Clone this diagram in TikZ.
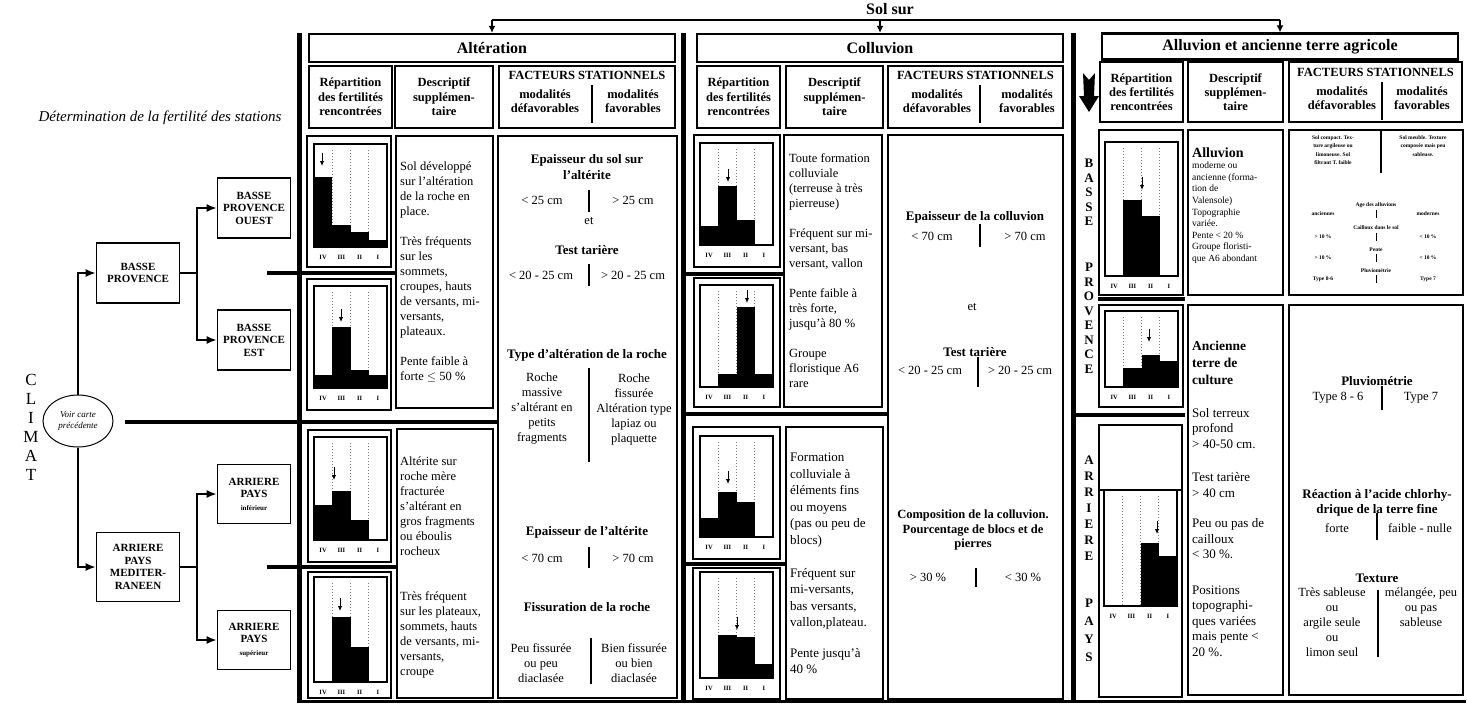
\documentclass[tikz,border=0pt]{standalone}
\usepackage{fontspec}
\setmainfont{Liberation Serif}
\usetikzlibrary{arrows.meta,shapes.geometric}

\tikzset{
  cellframe/.style={line width=2.4pt},
  titlebox/.style={draw, line width=2.4pt, inner sep=0pt, font=\bfseries\fontsize{16}{18}\selectfont},
  headbox/.style={draw, line width=2.4pt, inner sep=0pt, align=center, font=\bfseries\fontsize{12.5}{14.5}\selectfont},
  headtxt/.style={align=center, inner sep=0pt, font=\bfseries\fontsize{12.5}{14.5}\selectfont},
  regbox/.style={draw, line width=1.8pt, inner sep=0pt, align=center, font=\bfseries\fontsize{11}{12.5}\selectfont},
  conn/.style={line width=1.6pt, -{Latex[length=10pt,width=8pt]}},
  feed/.style={line width=1.2pt, -{Latex[length=7pt,width=7pt]}},
  sepbar/.style={line width=5pt},
  rowsep/.style={line width=4pt},
  divider/.style={line width=2.2pt},
  desctxt/.style={anchor=north west, align=left, inner sep=0pt, font=\fontsize{12.5}{15}\selectfont},
  factxt/.style={align=center, inner sep=0pt, font=\fontsize{12.5}{15}\selectfont},
  facbold/.style={align=center, inner sep=0pt, font=\bfseries\fontsize{13}{15.5}\selectfont},
  mini/.style={align=center, inner sep=0pt, font=\bfseries\fontsize{5.5}{8.5}\selectfont},
  vletter/.style={inner sep=0pt, font=\bfseries\fontsize{13}{13}\selectfont},
  chartframe/.style={line width=2pt},
  gridline/.style={dotted, line width=1pt, gray},
  barfill/.style={fill=black},
  histarrow/.style={line width=1pt, -{Latex[length=5pt,width=4.5pt]}},
  axislab/.style={inner sep=0pt, font=\bfseries\fontsize{6.5}{6.5}\selectfont}
}

% #1 name, #2 left, #3 top, #4 base, #5 bar tops IV..I, #6 arrow x, #7 arrow y
\newcommand{\fertchart}[7]{%
  \foreach \xd in {1,2,3}
    \draw[gridline] (#2+\xd*18.25,#3+6) -- (#2+\xd*18.25,#4);
  \foreach \bt [count=\bi from 0] in {#5}
    \fill[barfill] (#2+\bi*18.25,#4) rectangle (#2+\bi*18.25+18.25,\bt);
  \draw[histarrow] (#6,#7) -- (#6,#7+13);
  \draw[chartframe] (#2,#3) rectangle (#2+73,#4);
  \foreach \lb [count=\bi from 0] in {IV,III,II,I}
    \node[axislab] (#1\lb) at (#2+\bi*18.25+9.1,#4+10) {\lb};
}

\begin{document}
\begin{tikzpicture}[x=1pt,y=-1pt]
\useasboundingbox (0,0) rectangle (1467,705);

% climat
\node[font=\itshape\fontsize{15}{17}\selectfont] (determ) at (160,118) {Détermination de la fertilité des stations};
\foreach \l/\yy [count=\i] in {C/380,L/399,I/418,M/437,A/456,T/475}
  \node[font=\fontsize{17}{17}\selectfont, inner sep=0pt] (clim\i) at (31,\yy) {\l};
\node[draw, ellipse, line width=1pt, minimum width=70, minimum height=52, inner sep=0pt, align=center, font=\itshape\fontsize{9}{10.5}\selectfont] (carte) at (78,421) {Voir carte\\précédente};

\node[regbox, minimum width=83, minimum height=60] (bp) at (138,273) {BASSE\\PROVENCE};
\node[regbox, minimum width=73, minimum height=60] (bpo) at (254,208) {BASSE\\PROVENCE\\OUEST};
\node[regbox, minimum width=73, minimum height=60] (bpe) at (254,340) {BASSE\\PROVENCE\\EST};
\node[regbox, minimum width=83, minimum height=69] (apm) at (138,567) {ARRIERE\\PAYS\\MEDITER-\\RANEEN};
\node[regbox, minimum width=73, minimum height=59] (api) at (254,494) {ARRIERE\\PAYS\\{\fontsize{7}{9}\selectfont inférieur}};
\node[regbox, minimum width=73, minimum height=59] (aps) at (254,640) {ARRIERE\\PAYS\\{\fontsize{7}{9}\selectfont supérieur}};

\coordinate (bpfork) at (197,273);
\coordinate (apfork) at (197,567);
\draw[conn] (carte.north) |- (bp.west);
\draw[conn] (carte.south) |- (apm.west);
\draw[line width=1.6pt] (bp.east) -- (bpfork);
\draw[conn] (bpfork) |- (bpo.west);
\draw[conn] (bpfork) |- (bpe.west);
\draw[line width=1.6pt] (apm.east) -- (apfork);
\draw[conn] (apfork) |- (api.west);
\draw[conn] (apfork) |- (aps.west);

\draw[rowsep] (267,273) -- (397,273);
\draw[rowsep] (125,422) -- (497,422);
\draw[rowsep] (267,567) -- (397,567);

\draw[sepbar] (299,33) -- (299,702);
\draw[sepbar] (683,33) -- (683,702);
\draw[sepbar] (1073,33) -- (1073,702);
\draw[line width=3pt] (297,701) -- (1466,701);

% sol sur
\node[font=\bfseries\fontsize{16}{18}\selectfont] (solsur) at (890,9) {Sol sur};
\node[titlebox, minimum width=366, minimum height=28] (altT) at (492,48) {Altération};
\node[titlebox, minimum width=366, minimum height=28] (colT) at (880,48) {Colluvion};
\node[titlebox, minimum width=356, minimum height=26] (allT) at (1280,46.5) {Alluvion et ancienne terre agricole};
\coordinate (solL) at (492,20);
\coordinate (solM) at (colT.north |- solL);
\coordinate (solR) at (allT.north |- solL);
\draw[line width=1.2pt] (solL) -- (solR);
\draw[feed] (solL) -- (altT);
\draw[feed] (solM) -- (colT);
\draw[feed] (solR) -- (allT);

% alteration
\node[headbox, minimum width=83, minimum height=62] (altRep) at (350.5,97) {Répartition\\des fertilités\\rencontrées};
\node[headbox, minimum width=98, minimum height=62] (altDes) at (444,97) {Descriptif\\supplémen-\\taire};
\node[headbox, minimum width=176, minimum height=62] (altFac) at (587,97) {};
\node[headtxt] (altFacT) at (587,75) {FACTEURS STATIONNELS};
\node[headtxt] (altFacD) at (545,101) {modalités\\défavorables};
\node[headtxt] (altFacF) at (633,101) {modalités\\favorables};
\draw[divider] (592,85) -- (592,123);

\draw[cellframe] (307,136) rectangle (391,267);
\draw[cellframe] (307,279) rectangle (391,410);
\draw[cellframe] (308,430) rectangle (391,562);
\draw[cellframe] (308,572) rectangle (391,698);
\fertchart{a1}{314}{144}{247}{177,225,232,240}{322}{153}
\fertchart{a2}{314}{286}{388}{375,327,370,375}{341}{309}
\fertchart{a3}{314}{437}{540}{505,491,520,540}{334}{467}
\fertchart{a4}{314}{577}{682}{682,617,647,682}{340}{598}

\draw[cellframe] (396,136) rectangle (493,408);
\draw[cellframe] (397,429) rectangle (493,698);
\draw[cellframe] (498,136) rectangle (677,698);
\node[desctxt] (altD1) at (400,162) {Sol développé\\sur l'altération\\de la roche en\\place.\\[15pt]Très fréquents\\sur les\\sommets,\\croupes, hauts\\de versants, mi-\\versants,\\plateaux.\\[15pt]Pente faible à\\forte $\leq$ 50 \%};
\node[desctxt] (altD2) at (400,457) {Altérite sur\\roche mère\\fracturée\\s'altérant en\\gros fragments\\ou éboulis\\rocheux\\[30pt]Très fréquent\\sur les plateaux,\\sommets, hauts\\de versants, mi-\\versants,\\croupe};

\node[facbold] (altE1) at (587,167) {Epaisseur du sol sur\\l'altérite};
\node[factxt] (altE1a) at (542,200) {< 25 cm};
\node[factxt] (altE1b) at (633,200) {> 25 cm};
\draw[divider] (589,190) -- (589,212);
\node[factxt] (altEt) at (589,221) {et};
\node[facbold] (altTt) at (587,250) {Test tarière};
\node[factxt] (altTta) at (541,275) {< 20 - 25 cm};
\node[factxt] (altTtb) at (633,275) {> 20 - 25 cm};
\draw[divider] (589,264) -- (589,286);
\node[facbold] (altTy) at (587,355) {Type d'altération de la roche};
\node[factxt] (altTya) at (542,409) {Roche\\massive\\s'altérant en\\petits\\fragments};
\node[factxt] (altTyb) at (634,409) {Roche\\fissurée\\Altération type\\lapiaz ou\\plaquette};
\draw[divider] (589,368) -- (589,462);
\node[facbold] (altEa) at (587,532) {Epaisseur de l'altérite};
\node[factxt] (altEaa) at (542,558) {< 70 cm};
\node[factxt] (altEab) at (633,558) {> 70 cm};
\draw[divider] (589,547) -- (589,568);
\node[facbold] (altFi) at (587,607) {Fissuration de la roche};
\node[factxt] (altFia) at (541,663) {Peu fissurée\\ou peu\\diaclasée};
\node[factxt] (altFib) at (634,663) {Bien fissurée\\ou bien\\diaclasée};
\draw[divider] (591,638) -- (591,684);

% colluvion
\node[headbox, minimum width=83, minimum height=62] (colRep) at (738.5,97) {Répartition\\des fertilités\\rencontrées};
\node[headbox, minimum width=97, minimum height=62] (colDes) at (834.5,97) {Descriptif\\supplémen-\\taire};
\node[headbox, minimum width=175, minimum height=62] (colFac) at (975.5,97) {};
\node[headtxt] (colFacT) at (975.5,75) {FACTEURS STATIONNELS};
\node[headtxt] (colFacD) at (937,101) {modalités\\défavorables};
\node[headtxt] (colFacF) at (1027,101) {modalités\\favorables};
\draw[divider] (980,85) -- (980,123);

\draw[rowsep] (683,274) -- (783,274);
\draw[rowsep] (683,414) -- (888,414);
\draw[rowsep] (683,564) -- (787,564);
\draw[cellframe] (694,135) rectangle (780,267);
\draw[cellframe] (694,278) rectangle (780,407);
\draw[cellframe] (693,427) rectangle (780,559);
\draw[cellframe] (693,568) rectangle (780,699);
\fertchart{c1}{700}{143}{245}{226,186,220,245}{728}{169}
\fertchart{c2}{700}{285}{387}{387,374,307,374}{747}{290}
\fertchart{c3}{700}{436}{537}{518,492,502,537}{728}{471}
\fertchart{c4}{700}{572}{678}{678,635,637,664}{737}{617}

\draw[cellframe] (784,135) rectangle (882,407);
\draw[cellframe] (786,427) rectangle (883,699);
\draw[cellframe] (888,135) rectangle (1063,699);
\node[desctxt] (colD1) at (789,153) {Toute formation\\colluviale\\(terreuse à très\\pierreuse)\\[15pt]Fréquent sur mi-\\versant, bas\\versant, vallon\\[15pt]Pente faible à\\très forte,\\jusqu'à 80 \%\\[15pt]Groupe\\floristique A6\\rare};
\node[desctxt, font=\fontsize{13}{16.5}\selectfont] (colD2) at (790,453) {Formation\\colluviale à\\éléments fins\\ou moyens\\(pas ou peu de\\blocs)\\[16.5pt]Fréquent sur\\mi-versants,\\bas versants,\\vallon,plateau.\\[14pt]Pente jusqu'à\\40 \%};

\node[facbold] (colEc) at (975,217) {Epaisseur de la colluvion};
\node[factxt] (colEca) at (932,236) {< 70 cm};
\node[factxt] (colEcb) at (1025,236) {> 70 cm};
\draw[divider] (980,224) -- (980,247);
\node[factxt] (colEt) at (972,307) {et};
\node[facbold] (colTt) at (975,352) {Test tarière};
\node[factxt] (colTta) at (930,370) {< 20 - 25 cm};
\node[factxt] (colTtb) at (1020,370) {> 20 - 25 cm};
\draw[divider] (978,357) -- (978,387);
\node[facbold, font=\bfseries\fontsize{12.5}{14.5}\selectfont] (colCo) at (973,530) {Composition de la colluvion.\\Pourcentage de blocs et de\\pierres};
\node[factxt] (colCoa) at (928,577) {> 30 \%};
\node[factxt] (colCob) at (1023,577) {< 30 \%};
\draw[divider] (976,568) -- (976,587);

% alluvion
\node[headbox, minimum width=83, minimum height=60, font=\bfseries\fontsize{12.5}{14}\selectfont] (allRep) at (1141.5,92) {Répartition\\des fertilités\\rencontrées};
\node[headbox, minimum width=95, minimum height=60, font=\bfseries\fontsize{12.5}{14}\selectfont] (allDes) at (1235.5,92) {Descriptif\\supplémen-\\taire};
\node[headbox, minimum width=173, minimum height=60] (allFac) at (1375.5,92) {};
\node[headtxt] (allFacT) at (1375.5,72) {FACTEURS STATIONNELS};
\node[headtxt] (allFacD) at (1342,98) {modalités\\défavorables};
\node[headtxt] (allFacF) at (1422,98) {modalités\\favorables};
\draw[divider] (1382,82) -- (1382,120);
\fill (1083,73) -- (1089,80) -- (1095,73) -- (1094,96) -- (1099,96) -- (1089,112) -- (1079,96) -- (1084,96) -- cycle;

\foreach \l/\yy [count=\i] in {B/163,A/178,S/192,S/207,E/221,P/267,R/282,O/296,V/311,E/325,N/340,C/354,E/369}
  \node[vletter] (bpv\i) at (1089,\yy) {\l};
\foreach \l/\yy [count=\i] in {A/460,R/476,R/492,I/508,E/524,R/540,E/556,P/603,A/621,Y/639,S/657}
  \node[vletter] (apv\i) at (1089,\yy) {\l};

\draw[rowsep] (1098,299) -- (1185,299);
\draw[rowsep] (1073,415) -- (1185,415);
\draw[cellframe] (1099,130) rectangle (1183,295);
\draw[cellframe] (1099,305) rectangle (1183,407);
\draw[cellframe] (1099,425) rectangle (1182,697);
\draw[chartframe] (1099,490) -- (1182,490);
\fertchart{l1}{1105}{142}{276}{276,200,216,276}{1142}{177}
\fertchart{l2}{1105}{311}{387}{387,368,355,361}{1149}{329}
\fertchart{l3}{1104}{490}{606}{606,606,543,556}{1157}{521}

\draw[cellframe] (1188,130) rectangle (1283,295);
\draw[cellframe] (1188,305) rectangle (1283,695);
\draw[cellframe] (1289,130) rectangle (1463,295);
\draw[cellframe] (1289,305) rectangle (1463,695);
\node[anchor=west, inner sep=0pt, font=\bfseries\fontsize{14}{16}\selectfont] (allAl) at (1192,153) {Alluvion};
\node[desctxt, font=\fontsize{9.5}{11.6}\selectfont] (allD1) at (1192,162) {moderne ou\\ancienne (forma-\\tion de\\Valensole)\\Topographie\\variée.\\Pente < 20 \%\\Groupe floristi-\\que A6 abondant};
\node[desctxt, font=\bfseries\fontsize{13.5}{17}\selectfont] (allAn) at (1192,341) {Ancienne\\terre de\\culture};
\node[desctxt, font=\fontsize{13}{15.5}\selectfont] (allD2) at (1192,408) {Sol terreux\\profond\\> 40-50 cm.\\[18pt]Test tarière\\> 40 cm\\[15pt]Peu ou pas de\\cailloux\\< 30 \%.\\[20pt]Positions\\topographi-\\ques variées\\mais pente <\\20 \%.};

\node[mini] (allSc) at (1333,150) {Sol compact. Tex-\\ture argileuse ou\\limoneuse. Sol\\filtrant T. faible};
\node[mini] (allSm) at (1423,146) {Sol meuble. Texture\\composée mais peu\\sableuse.};
\draw[divider] (1381,130) -- (1381,173);
\node[mini] (allAg) at (1376,205) {Age des alluvions};
\node[mini] (allAga) at (1323,214) {anciennes};
\node[mini] (allAgb) at (1428,214) {modernes};
\node[mini] (allCa) at (1376,228) {Cailloux dans le sol};
\node[mini] (allCaa) at (1323,237) {> 10 \%};
\node[mini] (allCab) at (1428,237) {< 10 \%};
\node[mini] (allPe) at (1376,250) {Pente};
\node[mini] (allPea) at (1323,258) {> 10 \%};
\node[mini] (allPeb) at (1428,258) {< 10 \%};
\node[mini] (allPl) at (1376,271) {Pluviométrie};
\node[mini] (allPla) at (1323,279) {Type 8-6};
\node[mini] (allPlb) at (1428,279) {Type 7};
\foreach \yy in {214,237,258,279}
  \draw[line width=0.8pt] (1376,\yy-4) -- (1376,\yy+4);

\node[facbold] (allPv) at (1377,381) {Pluviométrie};
\node[factxt] (allPva) at (1338,398) {Type 8 - 6};
\node[factxt] (allPvb) at (1421,398) {Type 7};
\draw[divider] (1382,386) -- (1382,410);
\node[facbold] (allRe) at (1377,503) {Réaction à l'acide chlorhy-\\drique de la terre fine};
\node[factxt] (allRea) at (1337,528) {forte};
\node[factxt] (allReb) at (1420,528) {faible - nulle};
\draw[divider] (1377,513) -- (1377,540);
\node[facbold] (allTx) at (1377,578) {Texture};
\node[factxt] (allTxa) at (1332,622) {Très sableuse\\ou\\argile seule\\ou\\limon seul};
\node[factxt] (allTxb) at (1421,607) {mélangée, peu\\ou pas\\sableuse};
\draw[divider] (1378,590) -- (1378,657);
\end{tikzpicture}
\end{document}
